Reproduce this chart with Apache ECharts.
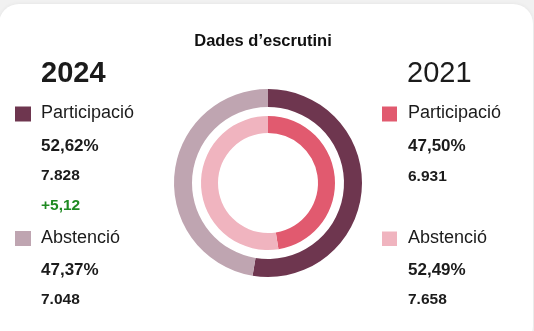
<!DOCTYPE html>
<html><head><meta charset="utf-8">
<script src="https://cdn.jsdelivr.net/npm/echarts@6/dist/echarts.min.js"></script>
<style>
html,body{margin:0;padding:0;width:534px;height:331px;overflow:hidden;background:#f1f1f1;}
#card{position:absolute;left:-1px;top:4px;width:534px;height:342px;background:#fff;border-radius:20px;box-shadow:0 0 4px rgba(0,0,0,0.06);}
#chart{position:absolute;left:0;top:0;width:534px;height:331px;}
</style></head>
<body>
<div id="card"></div>
<div id="chart"></div>
<script>
const title = "Dades d\u2019escrutini";
const categories = ["Participació", "Abstenció"];
const years = ["2024", "2021"];
const pct2024 = [52.62, 47.37];
const pct2021 = [47.50, 52.49];
const votes2024 = ["7.828", "7.048"];
const votes2021 = ["6.931", "7.658"];
const diff2024 = "+5,12";
const colors2024 = ["#6e364f", "#bfa5b1"];
const colors2021 = ["#e15a6f", "#f0b4bf"];

function fmtPct(v){ return v.toFixed(2).replace('.', ',') + '%'; }

const chart = echarts.init(document.getElementById('chart'), null, {renderer:'canvas'});
const FONT = '"Liberation Sans", Arial, Helvetica, sans-serif';
const ink = '#1b1b1b';

function txt(x, y, s, size, weight, color){
  return {type:'text', x:x, y:y, style:{text:s, fontSize:size, fontWeight:weight, fontFamily:FONT, fill:color||ink, verticalAlign:'middle', align:'left'}};
}

const graphics = [
  {type:'text', x:263, y:41, style:{text:title, fontSize:16.5, fontWeight:'bold', fontFamily:FONT, fill:'#111', align:'center', verticalAlign:'middle'}},
  txt(41, 74, years[0], 29, 'bold'),
  txt(407, 74, years[1], 29, 'normal'),
  {type:'rect', shape:{x:15, y:106.5, width:16, height:15}, style:{fill:colors2024[0]}},
  txt(41, 113.5, categories[0], 18, 'normal'),
  txt(41, 146, fmtPct(pct2024[0]), 17, 'bold'),
  txt(41, 176, votes2024[0], 15.5, 'bold'),
  txt(41, 205.5, diff2024, 15.5, 'bold', '#1f8a22'),
  {type:'rect', shape:{x:15, y:231, width:16, height:15}, style:{fill:colors2024[1]}},
  txt(41, 238, categories[1], 18, 'normal'),
  txt(41, 270, fmtPct(pct2024[1]), 17, 'bold'),
  txt(41, 300, votes2024[1], 15.5, 'bold'),
  {type:'rect', shape:{x:382, y:106.5, width:15, height:15}, style:{fill:colors2021[0]}},
  txt(408, 113.5, categories[0], 18, 'normal'),
  txt(408, 146.5, fmtPct(pct2021[0]), 17, 'bold'),
  txt(408, 176.5, votes2021[0], 15.5, 'bold'),
  {type:'rect', shape:{x:382, y:231.5, width:15, height:14.5}, style:{fill:colors2021[1]}},
  txt(408, 238.5, categories[1], 18, 'normal'),
  txt(408, 270.5, fmtPct(pct2021[1]), 17, 'bold'),
  txt(408, 300, votes2021[1], 15.5, 'bold')
];

chart.setOption({
  animation:false,
  backgroundColor:'transparent',
  graphic: graphics,
  series:[
    {type:'pie', center:[268,183], radius:[76,94], startAngle:90, clockwise:true, silent:true,
     label:{show:false}, labelLine:{show:false},
     data: categories.map((c,i)=>({name:c, value:pct2024[i], itemStyle:{color:colors2024[i]}}))},
    {type:'pie', center:[268,183], radius:[50,67], startAngle:90, clockwise:true, silent:true,
     label:{show:false}, labelLine:{show:false},
     data: categories.map((c,i)=>({name:c, value:pct2021[i], itemStyle:{color:colors2021[i]}}))}
  ]
});
</script>
</body></html>
